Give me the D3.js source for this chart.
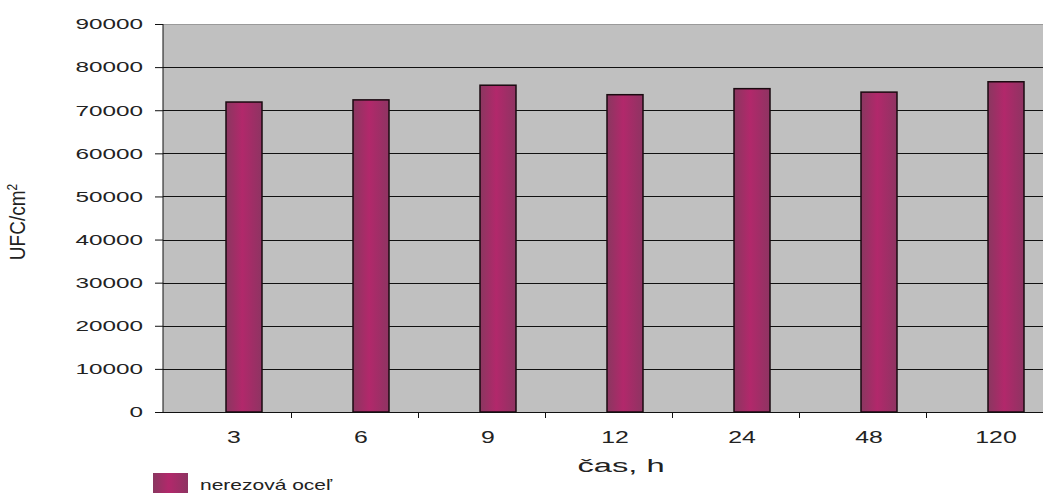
<!DOCTYPE html>
<html>
<head>
<meta charset="utf-8">
<script src="https://cdn.jsdelivr.net/npm/d3@7"></script>
<style>
  html, body { margin: 0; padding: 0; background: #ffffff; }
  svg { display: block; }
  text { font-family: "Liberation Sans", Arial, sans-serif; fill: #222; }
</style>
</head>
<body>
<svg id="chart" width="1043" height="493"></svg>
<script>
// ---- data ----
const categories = ["3", "6", "9", "12", "24", "48", "120"];
const values = [71900, 72400, 75800, 73600, 75000, 74200, 76600];
const yTicks = [0, 10000, 20000, 30000, 40000, 50000, 60000, 70000, 80000, 90000];
const seriesName = "nerezová oceľ";
const xTitle = "čas, h";
const yTitle = "UFC/cm";

const svg = d3.select("#chart");
const plot = { left: 163, top: 24, right: 1043, bottom: 412 };

const y = d3.scaleLinear().domain([0, 90000]).range([plot.bottom, plot.top]);
// bar centres
const x = d3.scalePoint().domain(categories).range([244, 1006]);
const step = x.step();
const barW = 36;

// gradient for bars
const defs = svg.append("defs");
const grad = defs.append("linearGradient").attr("id", "barGrad").attr("x1", "0").attr("x2", "1").attr("y1", "0").attr("y2", "0");
grad.append("stop").attr("offset", "0%").attr("stop-color", "#8a3760");
grad.append("stop").attr("offset", "45%").attr("stop-color", "#b2286b");
grad.append("stop").attr("offset", "100%").attr("stop-color", "#8e3462");

// plot background
svg.append("rect")
  .attr("x", plot.left).attr("y", plot.top)
  .attr("width", plot.right - plot.left).attr("height", plot.bottom - plot.top)
  .attr("fill", "#c0c0c0");
svg.append("line")
  .attr("x1", plot.left).attr("x2", plot.right)
  .attr("y1", plot.top + 0.5).attr("y2", plot.top + 0.5)
  .attr("stroke", "#9a9a9a").attr("stroke-width", 1);

// gridlines
svg.append("g").selectAll("line")
  .data(yTicks.filter(d => d > 0 && d < 90000))
  .join("line")
  .attr("x1", plot.left).attr("x2", plot.right)
  .attr("y1", d => Math.round(y(d)) + 0.5).attr("y2", d => Math.round(y(d)) + 0.5)
  .attr("stroke", "#111").attr("stroke-width", 1);

// bars
svg.append("g").selectAll("rect")
  .data(categories.map((c, i) => ({ c, v: values[i] })))
  .join("rect")
  .attr("x", d => x(d.c) - barW / 2)
  .attr("y", d => y(d.v))
  .attr("width", barW)
  .attr("height", d => plot.bottom - y(d.v))
  .attr("fill", "url(#barGrad)")
  .attr("stroke", "#1a0a10").attr("stroke-width", 1.5);

// y axis
const yAxis = d3.axisLeft(y).tickValues(yTicks).tickSize(8).tickPadding(12).tickFormat(d3.format("d"));
const gy = svg.append("g").attr("transform", `translate(${plot.left},0)`).call(yAxis);
gy.select(".domain").attr("stroke", "#111").attr("d", `M0,${plot.top}V${plot.bottom}`);
gy.selectAll(".tick line").attr("stroke", "#111");
gy.selectAll(".tick text")
  .attr("font-size", 15).attr("fill", "#333")
  .style("font-family", "'Liberation Sans', Arial, sans-serif")
  .each(function () {
    const t = d3.select(this);
    const xx = +t.attr("x");
    t.attr("x", null);
    t.attr("transform", `translate(${xx},0) scale(1.62,1)`);
  });

// x axis line
svg.append("line")
  .attr("x1", plot.left).attr("x2", plot.right)
  .attr("y1", plot.bottom + 0.5).attr("y2", plot.bottom + 0.5)
  .attr("stroke", "#111").attr("stroke-width", 1.2);

// x ticks between categories
svg.append("g").selectAll("line")
  .data(categories.slice(0, categories.length - 1))
  .join("line")
  .attr("x1", d => Math.round(x(d) + step * 0.37) + 0.5)
  .attr("x2", d => Math.round(x(d) + step * 0.37) + 0.5)
  .attr("y1", plot.bottom).attr("y2", plot.bottom + 6)
  .attr("stroke", "#111");

// x labels
svg.append("g").selectAll("text")
  .data(categories)
  .join("text")
  .attr("transform", d => `translate(${x(d) - 10},443) scale(1.55,1)`)
  .attr("text-anchor", "middle")
  .attr("font-size", 16)
  .attr("fill", "#333")
  .text(d => d);

// x title
svg.append("text")
  .attr("transform", `translate(621,472) scale(1.72,1)`)
  .attr("text-anchor", "middle")
  .attr("font-size", 19)
  .attr("fill", "#222")
  .text(xTitle);

// y title
const yt = svg.append("text")
  .attr("transform", `translate(25,222) scale(1.2,1) rotate(-90)`)
  .attr("text-anchor", "middle")
  .attr("font-size", 19)
  .attr("fill", "#222");
yt.append("tspan").text(yTitle);
yt.append("tspan").attr("font-size", 12).attr("dy", -7).text("2");

// legend
svg.append("rect")
  .attr("x", 153).attr("y", 473).attr("width", 35).attr("height", 22)
  .attr("fill", "url(#barGrad)");
svg.append("text")
  .attr("transform", `translate(200,490) scale(1.5,1)`)
  .attr("font-size", 14)
  .attr("fill", "#222")
  .text(seriesName);
</script>
</body>
</html>
